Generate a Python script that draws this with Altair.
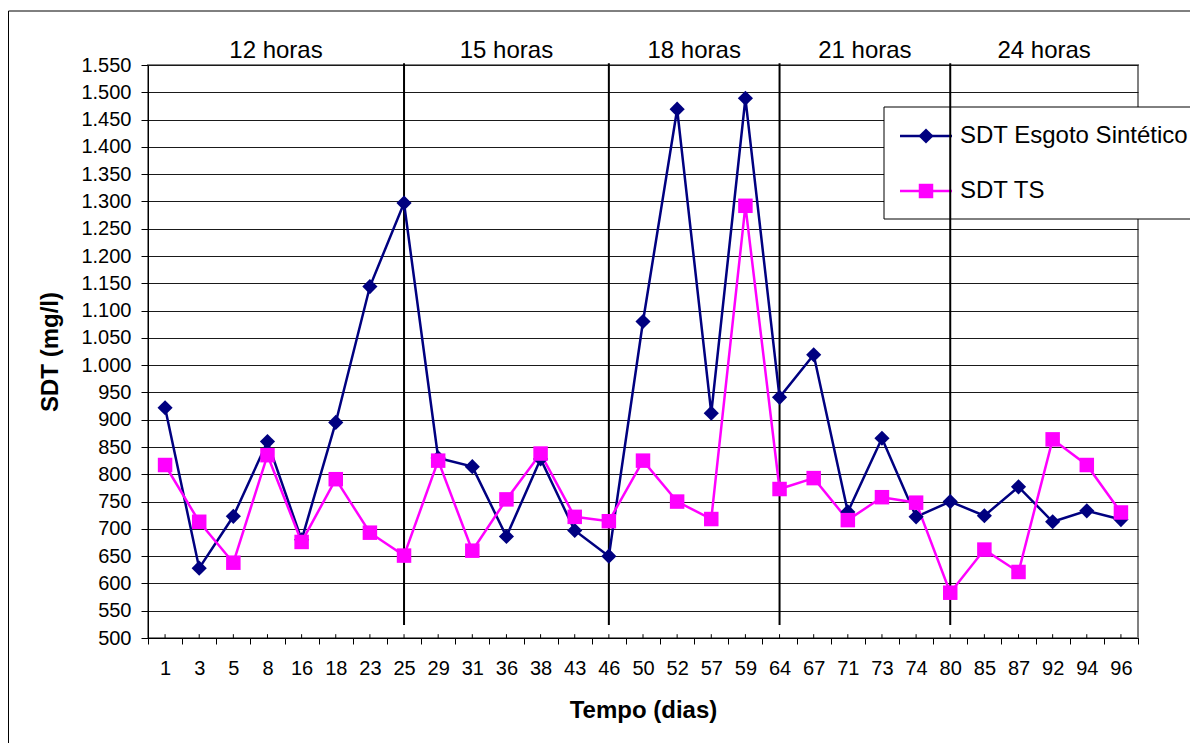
import altair as alt
import pandas as pd

# ---------------- data ----------------
dias = ["1", "3", "5", "8", "16", "18", "23", "25", "29", "31", "36", "38", "43", "46",
        "50", "52", "57", "59", "64", "67", "71", "73", "74", "80", "85", "87", "92", "94", "96"]
esgoto = [922, 628, 723, 860, 680, 895, 1144, 1297, 830, 814, 686, 828, 697, 650,
          1080, 1469, 912, 1489, 941, 1019, 731, 866, 722, 750, 724, 777, 713, 733, 717]
ts = [817, 713, 638, 835, 676, 791, 693, 651, 825, 660, 754, 838, 722, 714,
      825, 750, 718, 1292, 773, 793, 716, 758, 748, 583, 662, 621, 864, 817, 730]
series_names = ["SDT Esgoto Sintético", "SDT TS"]
separadores = ["25", "46", "64", "80"]
secoes = ["12 horas", "15 horas", "18 horas", "21 horas", "24 horas"]
y_ticks = list(range(500, 1551, 50))

FONT = "Liberation Sans"
NAVY = "#000080"
MAGENTA = "#FF00FF"
W, H = 990, 573

df_e = pd.DataFrame({"dia": dias, "sdt": esgoto, "serie": series_names[0]})
df_t = pd.DataFrame({"dia": dias, "sdt": ts, "serie": series_names[1]})
df_d = pd.DataFrame({"dia": dias})
df_sep = pd.DataFrame({"dia": separadores})

# section label positions derived from separator categories (index units)
bounds = [0] + [dias.index(s) + 0.5 for s in separadores] + [len(dias)]
mids = [(bounds[i] + bounds[i + 1]) / 2 for i in range(len(secoes))]
df_sec = pd.DataFrame({"secao": secoes, "pos": mids})

xenc = alt.X(
    "dia:N",
    bandPosition=0.5,
    scale=alt.Scale(type="band", domain=dias, paddingInner=0, paddingOuter=0),
    axis=alt.Axis(
        title="Tempo (dias)", tickBand="extent", labelAngle=0, grid=False,
        tickSize=6, labelPadding=14, labelFontSize=20, titleFontSize=24,
        titleFontWeight="bold", titlePadding=20, labelOverlap=False,
    ),
)
yscale = alt.Scale(domain=[500, 1550], nice=False, zero=False)
yenc = alt.Y(
    "sdt:Q",
    scale=yscale,
    axis=alt.Axis(
        values=y_ticks, tickCount=len(y_ticks), title="SDT (mg/l)", grid=True,
        labelExpr="replace(format(datum.value, ','), ',', '.')",
        labelOverlap=False, labelFlush=False,
        tickSize=7, labelPadding=10, labelFontSize=20, titleFontSize=24,
        titleFontWeight="bold", titlePadding=18,
    ),
)

dummy = pd.DataFrame({"a": [0]})

frame = alt.Chart(dummy).mark_rect(fillOpacity=0, stroke="black", strokeWidth=1).encode(
    x=alt.value(-139.5), x2=alt.value(1200), y=alt.value(-54), y2=alt.value(900)
)

# custom legend (drawn under the separator lines, as in the reference)
leg_box = alt.Chart(dummy).mark_rect(fill="white", stroke="black", strokeWidth=1).encode(
    x=alt.value(736), x2=alt.value(1060), y=alt.value(42), y2=alt.value(154)
)
legend_layers = [leg_box]
for i, (name, col, shp, sz) in enumerate(zip(series_names, [NAVY, MAGENTA],
                                             ["diamond", "square"], [230, 210])):
    yy = 71 + 55 * i
    dleg = pd.DataFrame({"serie": [name]})
    legend_layers.append(
        alt.Chart(dleg).mark_rule(color=col, strokeWidth=2.5).encode(
            x=alt.value(752), x2=alt.value(804), y=alt.value(yy))
    )
    legend_layers.append(
        alt.Chart(dleg).mark_point(shape=shp, filled=True, size=sz, color=col, opacity=1).encode(
            x=alt.value(778), y=alt.value(yy))
    )
    legend_layers.append(
        alt.Chart(dleg).mark_text(font=FONT, fontSize=24, align="left", baseline="middle",
                                  color="black").encode(
            x=alt.value(812), y=alt.value(yy), text="serie:N")
    )

seps = alt.Chart(df_sep).mark_rule(color="black", strokeWidth=2).encode(
    x=xenc, y=alt.datum(1553), y2=alt.datum(524)
)
center_ticks = alt.Chart(df_d).mark_rule(color="black", strokeWidth=1).encode(
    x=xenc, y=alt.datum(500), y2=alt.datum(507)
)

line_e = alt.Chart(df_e).mark_line(color=NAVY, strokeWidth=2.5).encode(x=xenc, y=yenc)
pts_e = alt.Chart(df_e).mark_point(shape="diamond", filled=True, size=230, color=NAVY,
                                   opacity=1).encode(x=xenc, y=yenc)
line_t = alt.Chart(df_t).mark_line(color=MAGENTA, strokeWidth=2.5).encode(x=xenc, y=yenc)
pts_t = alt.Chart(df_t).mark_point(shape="square", filled=True, size=210, color=MAGENTA,
                                   opacity=1).encode(x=xenc, y=yenc)

inner = alt.layer(frame, *legend_layers, center_ticks, seps, line_e, line_t, pts_e, pts_t)

sections = alt.Chart(df_sec).mark_text(font=FONT, fontSize=24, baseline="middle",
                                       color="black").encode(
    x=alt.X("pos:Q", scale=alt.Scale(domain=[0, len(dias)], nice=False, zero=False), axis=None),
    y=alt.value(-14),
    text="secao:N",
)

chart = (
    alt.layer(inner, sections)
    .resolve_scale(x="independent")
    .properties(
        width=W, height=H,
        autosize=alt.AutoSizeParams(type="none"),
        padding={"left": 140, "top": 57, "right": 52, "bottom": 105},
        background="white",
    )
    .configure_view(stroke="#808080", strokeWidth=2)
    .configure_axis(
        labelFont=FONT, titleFont=FONT, labelColor="black", titleColor="black",
        domainColor="black", domainWidth=1, tickColor="black", tickWidth=1,
        gridColor="#1a1a1a", gridWidth=1, gridOpacity=1,
    )
)

chart.save("out.html", embed_options={"renderer": "svg", "actions": False})
